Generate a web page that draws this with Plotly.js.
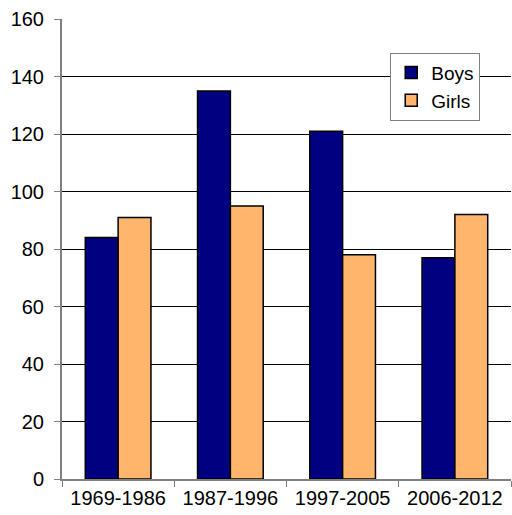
<!DOCTYPE html>
<html>
<head>
<meta charset="utf-8">
<script src="https://cdn.plot.ly/plotly-3.0.1.min.js"></script>
<style>html,body{margin:0;padding:0;background:#fff;}#chart{width:512px;height:515px;}</style>
</head>
<body>
<div id="chart"></div>
<script>
const categories = ["1969-1986", "1987-1996", "1997-2005", "2006-2012"];
const boys = [84, 135, 121, 77];
const girls = [91, 95, 78, 92];
const yTicks = [0, 20, 40, 60, 80, 100, 120, 140, 160];

const traces = [
  {type: "bar", name: "Boys", x: categories, y: boys,
   marker: {color: "#000080", line: {color: "#000000", width: 1.5}}},
  {type: "bar", name: "Girls", x: categories, y: girls,
   marker: {color: "#FFB56B", line: {color: "#000000", width: 1.5}}}
];

const layout = {
  width: 512, height: 515,
  margin: {l: 62, r: 1, t: 19, b: 36},
  paper_bgcolor: "#fff", plot_bgcolor: "#fff",
  font: {family: "Liberation Sans, Arial, sans-serif", size: 20, color: "#000"},
  barmode: "group", bargap: 0.415, bargroupgap: 0,
  showlegend: true,
  legend: {x: 0.731, y: 0.927, xanchor: "left", yanchor: "top",
    bgcolor: "#fff", bordercolor: "#808080", borderwidth: 1,
    font: {size: 19}, itemwidth: 30, tracegroupgap: 0},
  xaxis: {type: "category", tickson: "boundaries", ticks: "outside", ticklen: 6,
    tickcolor: "#808080", tickwidth: 1, showline: true, linecolor: "#808080", linewidth: 2,
    showgrid: false, fixedrange: true, tickfont: {size: 20}},
  yaxis: {range: [0, 160], tickvals: yTicks, ticktext: yTicks.map(String),
    ticks: "outside", ticklen: 6, tickcolor: "#808080", tickwidth: 1,
    showline: true, linecolor: "#808080", linewidth: 2,
    showgrid: true, gridcolor: "#000", gridwidth: 1, zeroline: false,
    tickfont: {size: 20}, ticklabelstandoff: 6}
};

Plotly.newPlot("chart", traces, layout, {staticPlot: true, displayModeBar: false});
</script>
</body>
</html>
